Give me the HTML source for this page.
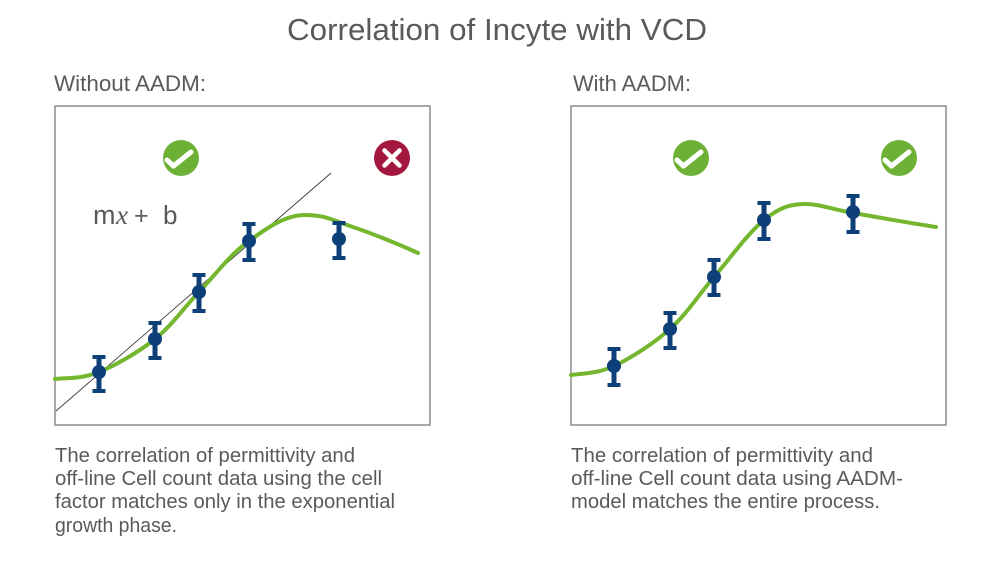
<!DOCTYPE html>
<html>
<head>
<meta charset="utf-8">
<style>
  html,body{margin:0;padding:0;background:#fff;}
  body{width:1000px;height:573px;overflow:hidden;}
  svg{display:block;}
  text{font-family:"Liberation Sans",Arial,sans-serif;fill:#5a5a5a;}
</style>
</head>
<body>
<svg width="1000" height="573" viewBox="0 0 1000 573" xmlns="http://www.w3.org/2000/svg">
  <rect x="0" y="0" width="1000" height="573" fill="#fff"/>

  <!-- Title -->
  <text x="287" y="40" font-size="31" textLength="420" lengthAdjust="spacingAndGlyphs">Correlation of Incyte with VCD</text>

  <!-- Subtitles -->
  <text x="54" y="91" font-size="22" textLength="152" lengthAdjust="spacingAndGlyphs">Without AADM:</text>
  <text x="573" y="91" font-size="22" textLength="118" lengthAdjust="spacingAndGlyphs">With AADM:</text>

  <!-- Boxes -->
  <rect x="55" y="106" width="375" height="319" fill="none" stroke="#8c8c8c" stroke-width="1.5"/>
  <rect x="571" y="106" width="375" height="319" fill="none" stroke="#8c8c8c" stroke-width="1.5"/>

  <!-- LEFT PANEL -->
  <!-- thin linear line -->
  <line x1="56" y1="411" x2="331" y2="173" stroke="#3a3a3a" stroke-width="0.9"/>
  <!-- green curve -->
  <path d="M55,379 C69.7,377.8 82.3,378.7 99,372 C115.7,365.3 138.3,352.3 155,339 C171.7,325.7 183.3,308.3 199,292 C214.7,275.7 230.5,253.7 249,241 C266.7,228.2 285,215 305,215 C325,215 331.2,219.7 350,226 C368.8,232.3 396.3,243.2 418,253"
        fill="none" stroke="#74b72e" stroke-width="4" stroke-linecap="round"/>
  <!-- mx + b -->
  <text x="93" y="224" font-size="27">m</text>
  <text x="116" y="224" font-size="27" font-style="italic" style="font-family:'Liberation Serif',serif;">x</text>
  <text x="134" y="224" font-size="25">+</text>
  <text x="163" y="224" font-size="26">b</text>

  <!-- error bars left -->
  <g fill="#0d3f78">
    <rect x="96.5" y="355" width="5" height="38"/><rect x="92.5" y="355" width="13" height="4"/><rect x="92.5" y="389" width="13" height="4"/><circle cx="99" cy="372" r="7"/>
    <rect x="152.5" y="321" width="5" height="39"/><rect x="148.5" y="321" width="13" height="4"/><rect x="148.5" y="356" width="13" height="4"/><circle cx="155" cy="339" r="7"/>
    <rect x="196.5" y="273" width="5" height="40"/><rect x="192.5" y="273" width="13" height="4"/><rect x="192.5" y="309" width="13" height="4"/><circle cx="199" cy="292" r="7"/>
    <rect x="246.5" y="222" width="5" height="40"/><rect x="242.5" y="222" width="13" height="4"/><rect x="242.5" y="258" width="13" height="4"/><circle cx="249" cy="241" r="7"/>
    <rect x="336.5" y="221" width="5" height="39"/><rect x="332.5" y="221" width="13" height="4"/><rect x="332.5" y="256" width="13" height="4"/><circle cx="339" cy="239" r="7"/>
  </g>

  <!-- icons left -->
  <circle cx="181" cy="158" r="18" fill="#6cb135"/>
  <path d="M167,160 L173.5,166 L191,152" fill="none" stroke="#fff" stroke-width="5" stroke-linecap="round" stroke-linejoin="round"/>
  <circle cx="392" cy="158" r="18" fill="#a4173f"/>
  <path d="M384.5,150.5 L399.5,165.5 M399.5,150.5 L384.5,165.5" fill="none" stroke="#fff" stroke-width="4.5" stroke-linecap="round"/>

  <!-- RIGHT PANEL -->
  <path d="M571,375 C585.3,373 597.5,373.7 614,366 C630.5,358.3 653.3,343.8 670,329 C686.7,314.2 698.3,295.2 714,277 C729.7,258.8 748.8,232.2 764,220 C779.2,207.8 790,204 805,204 C820,204 831.2,209.2 853,213 C874.8,216.8 911.5,223.3 936,227"
        fill="none" stroke="#74b72e" stroke-width="4" stroke-linecap="round"/>
  <g fill="#0d3f78">
    <rect x="611.5" y="347" width="5" height="40"/><rect x="607.5" y="347" width="13" height="4"/><rect x="607.5" y="383" width="13" height="4"/><circle cx="614" cy="366" r="7"/>
    <rect x="667.5" y="311" width="5" height="39"/><rect x="663.5" y="311" width="13" height="4"/><rect x="663.5" y="346" width="13" height="4"/><circle cx="670" cy="329" r="7"/>
    <rect x="711.5" y="258" width="5" height="39"/><rect x="707.5" y="258" width="13" height="4"/><rect x="707.5" y="293" width="13" height="4"/><circle cx="714" cy="277" r="7"/>
    <rect x="761.5" y="201" width="5" height="40"/><rect x="757.5" y="201" width="13" height="4"/><rect x="757.5" y="237" width="13" height="4"/><circle cx="764" cy="220" r="7"/>
    <rect x="850.5" y="194" width="5" height="40"/><rect x="846.5" y="194" width="13" height="4"/><rect x="846.5" y="230" width="13" height="4"/><circle cx="853" cy="212" r="7"/>
  </g>
  <circle cx="691" cy="158" r="18" fill="#6cb135"/>
  <path d="M677,160 L683.5,166 L701,152" fill="none" stroke="#fff" stroke-width="5" stroke-linecap="round" stroke-linejoin="round"/>
  <circle cx="899" cy="158" r="18" fill="#6cb135"/>
  <path d="M885,160 L891.5,166 L909,152" fill="none" stroke="#fff" stroke-width="5" stroke-linecap="round" stroke-linejoin="round"/>

  <!-- Captions left -->
  <text x="55" y="462" font-size="20" textLength="300" lengthAdjust="spacingAndGlyphs">The correlation of permittivity and</text>
  <text x="55" y="485" font-size="20" textLength="327" lengthAdjust="spacingAndGlyphs">off-line Cell count data using the cell</text>
  <text x="55" y="508" font-size="20" textLength="340" lengthAdjust="spacingAndGlyphs">factor matches only in the exponential</text>
  <text x="55" y="532" font-size="20" textLength="122" lengthAdjust="spacingAndGlyphs">growth phase.</text>

  <!-- Captions right -->
  <text x="571" y="462" font-size="20" textLength="302" lengthAdjust="spacingAndGlyphs">The correlation of permittivity and</text>
  <text x="571" y="485" font-size="20" textLength="332" lengthAdjust="spacingAndGlyphs">off-line Cell count data using AADM-</text>
  <text x="571" y="508" font-size="20" textLength="309" lengthAdjust="spacingAndGlyphs">model matches the entire process.</text>
</svg>
</body>
</html>
